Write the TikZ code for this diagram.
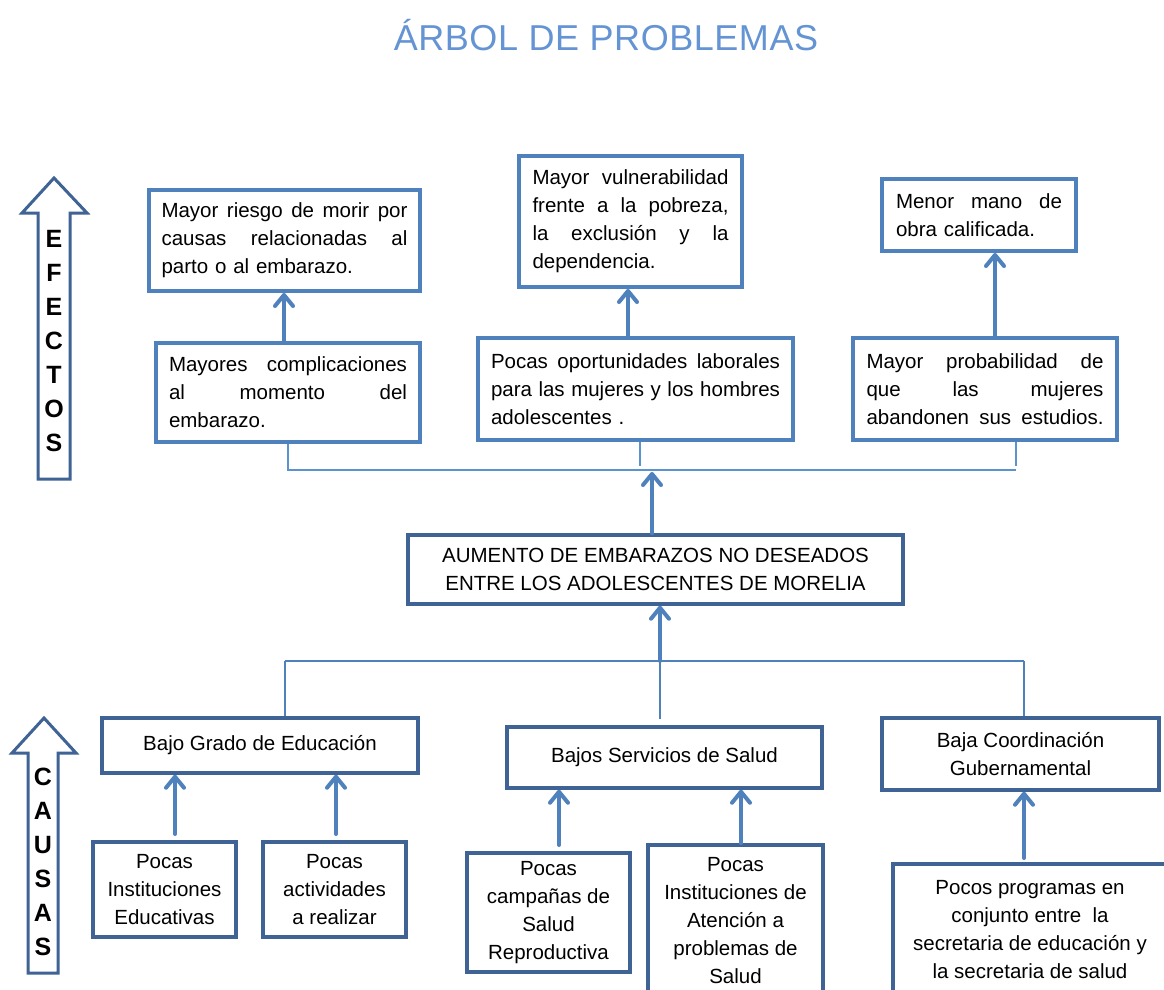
\documentclass[tikz,border=0pt]{standalone}
\usepackage{fontspec}
\setmainfont{Liberation Sans}
\usetikzlibrary{arrows.meta}
\definecolor{eblue}{HTML}{4F81BD}
\definecolor{cblue}{HTML}{3E6394}
\definecolor{lblue}{HTML}{5B93D0}
\definecolor{tblue}{HTML}{6494D3}
\newcommand\fs{\fontsize{20.5}{28}\selectfont}
\newcommand\jl[2]{\leavevmode\hbox to #1{\spaceskip=0.28em plus 1fil\relax #2}}
\tikzset{
  ebox/.style={draw=eblue, line width=4pt, fill=white, inner sep=0pt, align=left, font=\fs},
  cbox/.style={draw=cblue, line width=3.5pt, fill=white, inner sep=0pt, align=center, font=\fs},
  arr/.style={draw=eblue, line width=4pt, line cap=round, -{Straight Barb[length=11pt,width=18pt,round]}},
  thinline/.style={draw=lblue, line width=1.4pt},
  midline/.style={draw=eblue, line width=1.5pt},
  sidearrow/.style={draw=cblue, line width=3pt, fill=white, line join=miter},
  sidetext/.style={font=\fontsize{25}{34}\selectfont\bfseries, align=center, inner sep=0pt}
}
\begin{document}
\begin{tikzpicture}[x=1pt,y=-1pt]
\clip (0,0) rectangle (1164,990);
\fill[white] (0,0) rectangle (1164,990);

% title
\node[text=tblue, font=\fontsize{36}{40}\selectfont\addfontfeature{LetterSpace=1.5}] (title) at (606,35) {ÁRBOL DE PROBLEMAS};

% side arrows
\draw[sidearrow] (38,479) -- (38,213) -- (22,213) -- (54,178) -- (87,213) -- (70,213) -- (70,479) -- cycle;
\node[sidetext] (efectos) at (54,341) {E\\F\\E\\C\\T\\O\\S};
\draw[sidearrow] (28,973) -- (28,753) -- (12,753) -- (44,718) -- (76,753) -- (58,753) -- (58,973) -- cycle;
\node[sidetext] (causas) at (43,862) {C\\A\\U\\S\\A\\S};

% effects
\node[ebox, minimum width=271pt, minimum height=101pt, text width=246pt] (E1) at (284.5,240.5)
  {\jl{246pt}{Mayor riesgo de morir por}\\\jl{246pt}{causas relacionadas al}\\parto o al embarazo.};
\node[ebox, minimum width=223pt, minimum height=131pt, text width=196pt] (E2) at (630.5,221.5)
  {\jl{196pt}{Mayor vulnerabilidad}\\\jl{196pt}{frente a la pobreza,}\\\jl{196pt}{la exclusión y la}\\dependencia.};
\node[ebox, minimum width=194pt, minimum height=72pt, text width=166pt] (E3) at (979,215)
  {\jl{166pt}{Menor mano de}\\obra calificada.};
\node[ebox, minimum width=264pt, minimum height=99pt, text width=238pt] (E4) at (288,392.5)
  {\jl{238pt}{Mayores complicaciones}\\\jl{238pt}{al momento del}\\embarazo.};
\node[ebox, minimum width=315pt, minimum height=102pt, text width=289pt] (E5) at (635.5,389)
  {\jl{289pt}{Pocas oportunidades laborales}\\\jl{289pt}{para las mujeres y los hombres}\\adolescentes .};
\node[ebox, minimum width=264pt, minimum height=102pt, text width=237pt] (E6) at (985,389)
  {\jl{237pt}{Mayor probabilidad de}\\\jl{237pt}{que las mujeres}\\\jl{237pt}{abandonen sus estudios.}};

% central problem
\node[cbox, minimum width=495pt, minimum height=69pt] (M) at (655.5,569.5)
  {AUMENTO DE EMBARAZOS NO DESEADOS\\ENTRE LOS ADOLESCENTES DE MORELIA};

% causes
\node[cbox, minimum width=316pt, minimum height=55pt] (C1) at (260,745.5) {Bajo Grado de Educación};
\node[cbox, minimum width=315pt, minimum height=61pt] (C2) at (664.5,757.5) {Bajos Servicios de Salud};
\node[cbox, minimum width=277pt, minimum height=72pt] (C3) at (1020.5,754) {Baja Coordinación\\Gubernamental};

\node[cbox, minimum width=143pt, minimum height=95pt] (S1) at (164.5,889.5) {Pocas\\Instituciones\\Educativas};
\node[cbox, minimum width=143pt, minimum height=95pt] (S2) at (334.5,889.5) {Pocas\\actividades\\a realizar};
\node[cbox, minimum width=163pt, minimum height=119pt] (S3) at (548.5,912.5) {Pocas\\campañas de\\Salud\\Reproductiva};
\node[cbox, minimum width=175pt, minimum height=152pt] (S4) at (735.5,921) {Pocas\\Instituciones de\\Atención a\\problemas de\\Salud};
\node[cbox, minimum width=274pt, minimum height=132pt] (S5) at (1030,930) {Pocos programas en\\conjunto entre\ \ la\\secretaria de educación y\\la secretaria de salud};

% effect arrows
\coordinate (a1) at (284,343);
\draw[arr] (a1 |- E4.north) -- (a1 |- E1.south);
\coordinate (a2) at (628,338);
\draw[arr] (a2 |- E5.north) -- (a2 |- E2.south);
\coordinate (a3) at (995,338);
\draw[arr] (a3 |- E6.north) -- (a3 |- E3.south);

% effects connector
\coordinate (jl) at (288,470);
\coordinate (jr) at (1016,470);
\coordinate (jm) at (640,466);
\coordinate (jrr) at (1016,466);
\draw[thinline] (E4.south) -- (E4.south |- jl) -- (jr);
\draw[thinline] (jm |- E5.south) -- (jm);
\draw[thinline] (jrr |- E6.south) -- (jrr);
\coordinate (up1) at (652,472);
\draw[arr] (up1 |- M.north) -- (up1);

% causes connector
\coordinate (kl) at (285,661);
\coordinate (km) at (660,661);
\coordinate (kr) at (1024,661);
\coordinate (kmb) at (660,719);
\draw[draw=eblue, line width=2.5pt] (kl) -- (kr);
\draw[midline] (kl) -- (kl |- C1.north);
\draw[midline] (km) -- (kmb);
\draw[midline] (kr) -- (kr |- C3.north);
\draw[arr] (km) -- (km |- M.south);

% cause arrows
\coordinate (b1) at (175,834);
\draw[arr] (b1) -- (b1 |- C1.south);
\coordinate (b2) at (336,834);
\draw[arr] (b2) -- (b2 |- C1.south);
\coordinate (b3) at (559,845);
\draw[arr] (b3) -- (b3 |- C2.south);
\coordinate (b4) at (741,845);
\draw[arr] (b4 |- S4.north) -- (b4 |- C2.south);
\coordinate (b5) at (1024,858);
\draw[arr] (b5) -- (b5 |- C3.south);
\end{tikzpicture}
\end{document}
